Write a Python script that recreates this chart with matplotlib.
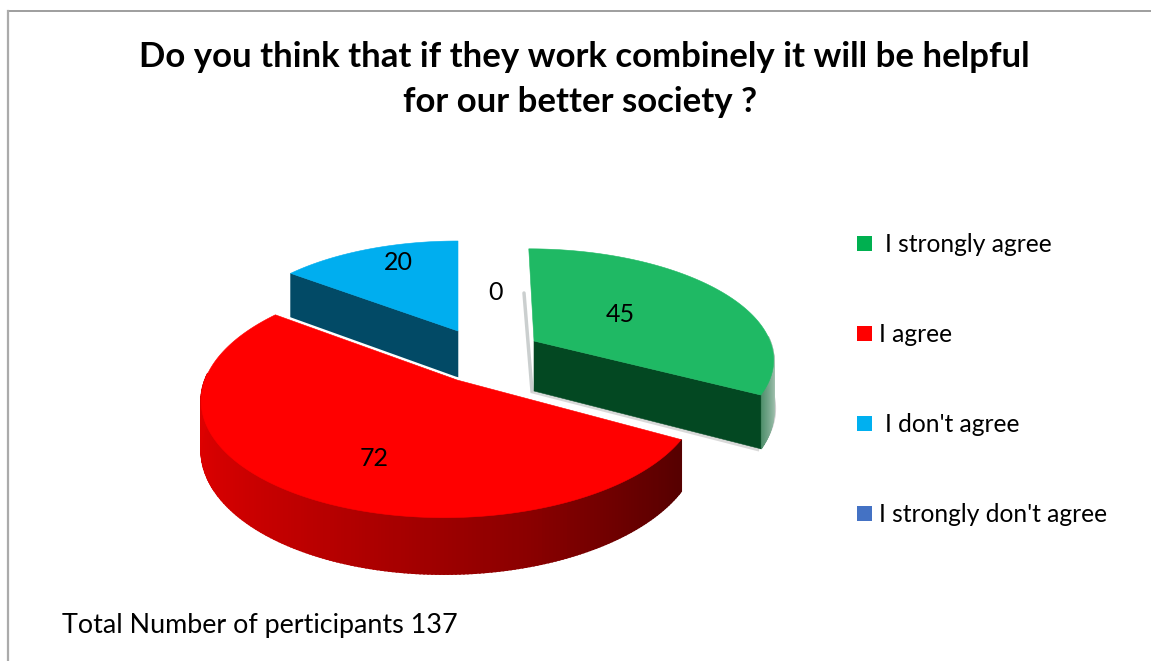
import numpy as np
import matplotlib
matplotlib.use("Agg")
import matplotlib.pyplot as plt
from matplotlib.patches import Polygon, Rectangle

categories = ["I strongly agree", "I agree", "I don't agree", "I strongly don't agree"]
values = [45, 72, 20, 0]
title_lines = ["Do you think that if they work combinely it will be helpful",
               "for our better society ?"]
footer = "Total Number of perticipants 137"

# colours per category: top face, cut face, legend box
top_colors = ["#1FB964", "#FF0000", "#00AEEF", "#4472C4"]
cut_colors = ["#034822", "#8B0000", "#024A66", "#2F5597"]
key_colors = ["#00B050", "#FF0000", "#00B0F0", "#4472C4"]

# pixel placement of each slice: apex x, apex y, x radius, y radius, perspective, lean, depth, arc shift
slice_geo = [
    (534, 341, 236, 106, 0.15, -6, 50, 0),
    (457, 380, 246, 117, 0.15, 6, 48, -6),
    (458, 331, 230, 103.5, 0.15, 0, 49, 0),
]
label_pos = [(620, 314), (374, 458), (398, 263), (496, 293)]
key_y = [244, 334, 424, 514]
key_text_x = [885, 879, 885, 879]


def project(geo, theta):
    # angle runs clockwise from twelve o'clock, far side of the pie is drawn smaller
    cx, cy, rx, ry, k, lean, depth, shift = geo
    X = np.sin(theta)
    Y = np.cos(theta)
    s = 1 / (1 + k * Y)
    return cx + shift + (rx * X + lean * Y) * s, cy - ry * Y * s, depth * s


def shade(pos, stops, colors):
    rgb = np.array([matplotlib.colors.to_rgb(c) for c in colors])
    return [np.interp(pos, stops, rgb[:, i]) for i in range(3)]


def draw_wall(geo, th, stops, colors, z):
    # outer wall, built from thin strips so it can carry a gradient
    px, py, pd = project(geo, th)
    for j in range(len(th) - 1):
        if np.cos(th[j]) > 0.05:
            continue
        col = shade(np.sin(th[j]), stops, colors)
        quad = [(px[j], py[j]), (px[j + 1], py[j + 1]),
                (px[j + 1], py[j + 1] + pd[j + 1]), (px[j], py[j] + pd[j])]
        ax.add_patch(Polygon(quad, closed=True, fc=col, ec=col, lw=1.2, zorder=z))


fig = plt.figure(figsize=(11.51, 6.61), dpi=100)
ax = fig.add_axes([0, 0, 1, 1])
ax.set_xlim(0, 1151)
ax.set_ylim(661, 0)
ax.axis("off")

# chart frame, only top and left show
ax.plot([8, 1151], [10.5, 10.5], color="#8E8E8E", lw=1.2, zorder=1)
ax.plot([8, 8], [10.5, 661], color="#ABABAB", lw=1.6, zorder=1)

angles = np.cumsum([0] + values) / sum(values) * 2 * np.pi

for i in range(3):
    geo = slice_geo[i]
    th = np.linspace(angles[i], angles[i + 1], 240)
    px, py, pd = project(geo, th)
    ax_, ay_, ad_ = geo[0], geo[1], geo[6]

    if i == 0:
        # soft grey shadow down the left and along the foot of the block
        sx, sy, sd = project(geo, np.linspace(np.pi / 2, angles[1], 40))
        ax.plot([ax_ - 10, ax_ - 2], [ay_ - 48, ay_ + ad_], color="#BFC4C4", lw=2.5, alpha=0.8,
                solid_capstyle="round", zorder=2)
        ax.plot([ax_ - 2, px[-1] - 3], [ay_ + ad_ + 1, py[-1] + pd[-1] + 1], color="#D0D0D0", lw=2,
                alpha=0.8, zorder=2)
        ax.plot(sx + 1, sy + sd - 3, color="#C4C4C4", lw=2, alpha=0.8, zorder=2)
        draw_wall(geo, th, [0.88, 1], ["#4F8F6C", "#B5CDBF"], 3)

    # cut faces towards the viewer: end of the green slice, start of the blue one
    if i in (0, 2):
        e = -1 if i == 0 else 0
        face = [(ax_, ay_), (px[e], py[e]), (px[e], py[e] + pd[e]), (ax_, ay_ + ad_)]
        ax.add_patch(Polygon(face, closed=True, fc=cut_colors[i], ec=cut_colors[i], lw=0.4, zorder=3.5))

    # top surface
    ax.add_patch(Polygon(np.column_stack([np.r_[ax_, px], np.r_[ay_, py]]), closed=True,
                         fc=top_colors[i], ec=top_colors[i], lw=0.4, zorder=6 if i == 1 else 4))

# red block sits in front of everything else, thin white seam above it
red = slice_geo[1]
th_red = np.linspace(angles[1], angles[2], 240)
rx_, ry_, rd_ = project(red, th_red)
ax.plot([red[0], rx_[-1]], [red[1] - 1.5, ry_[-1] - 1.5], color="white", lw=2, zorder=5)
ax.plot([red[0], rx_[0]], [red[1] - 1.5, ry_[0] - 1.5], color="white", lw=2, zorder=5)
draw_wall(red, th_red, [-1, -0.3, 0.3, 0.88], ["#DD0000", "#B00000", "#8A0000", "#560000"], 5.5)

font = "Lato"
for (lx, ly), v in zip(label_pos, values):
    ax.text(lx, ly, str(v), fontsize=18, family=font, color="black", ha="center", va="center", zorder=8)

ax.text(584, 57, title_lines[0], fontsize=25, family=font, fontweight="bold", ha="center", va="center")
ax.text(580, 102, title_lines[1], fontsize=25, family=font, fontweight="bold", ha="center", va="center")

for name, col, y, tx in zip(categories, key_colors, key_y, key_text_x):
    ax.add_patch(Rectangle((857, y - 8), 15, 15, fc=col, ec="none", zorder=7))
    ax.text(tx, y + 1, name, fontsize=17.7, family=font, color="black", ha="left", va="center")

ax.text(62, 625, footer, fontsize=19.4, family=font, color="black", ha="left", va="center")

fig.savefig("out.png", dpi=100, facecolor="white")
